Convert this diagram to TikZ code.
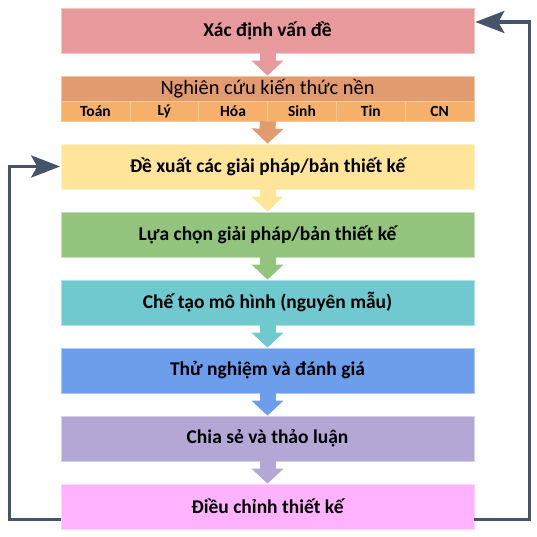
\documentclass[tikz,border=0pt]{standalone}
\usepackage{fontspec}
\setmainfont{Carlito}
\usepackage{xcolor}
\usepackage{tikz}
\usetikzlibrary{arrows.meta}

\definecolor{stepA}{HTML}{E8999B}
\definecolor{stepB}{HTML}{E29B6E}
\definecolor{stepBsub}{HTML}{F5B16C}
\definecolor{stepC}{HTML}{FFE599}
\definecolor{stepD}{HTML}{93C47D}
\definecolor{stepE}{HTML}{70C9CE}
\definecolor{stepF}{HTML}{6D9EEB}
\definecolor{stepG}{HTML}{B4A7D6}
\definecolor{stepH}{HTML}{FFB3FF}
\definecolor{loopcol}{HTML}{44546A}

\begin{document}
\begin{tikzpicture}[
                x=1pt,y=1pt,
                stage/.style={rectangle,fill=#1,draw=#1!55!white,line width=0.7pt,minimum width=413pt,minimum height=45pt,inner sep=0pt,font=\fontsize{19.5}{22}\selectfont\bfseries},
                subject/.style={rectangle,fill=stepBsub,draw=stepBsub!70!white,line width=0.6pt,minimum width=413pt/6,minimum height=20pt,inner sep=0pt,font=\fontsize{15.5}{17}\selectfont\bfseries},
                flow/.style={draw=#1,line width=16pt,-{Triangle[length=15pt,width=31pt]}},
                feedback/.style={draw=loopcol,line width=3.5pt,-{Stealth[length=29pt,width=22pt,inset=6pt]}},
            ]

            \useasboundingbox (0,0) rectangle (537,-537);

            \node[stage=stepA] (b1) at (267.5,-30.5) {Xác định vấn đề};

            \node[stage=stepB,minimum height=25pt,font=\fontsize{20.4}{22}\selectfont] (research) at (267.5,-88.5) {Nghiên cứu kiến thức nền};

            \foreach \i/\sub in {1/Toán,2/Lý,3/Hóa,4/Sinh,5/Tin,6/CN} {
                \node[subject] (sub\i) at (61+413/12+413/6*\i-413/6,-111) {\sub};
            }

            \foreach \i/\col/\txt in {3/stepC/{Đề xuất các giải pháp/bản thiết kế},
                                      4/stepD/{Lựa chọn giải pháp/bản thiết kế},
                                      5/stepE/{Chế tạo mô hình (nguyên mẫu)},
                                      6/stepF/{Thử nghiệm và đánh giá},
                                      7/stepG/{Chia sẻ và thảo luận},
                                      8/stepH/{Điều chỉnh thiết kế}} {
                \node[stage=\col] (b\i) at (267.5,-30.5-68*\i+68) {\txt};
            }

            \draw[flow=stepA] (b1.south) -- (research.north);
            \draw[flow=stepB] (sub3.south east) -- (b3.north);
            \foreach \i/\col [evaluate=\i as \j using int(\i+1)] in {3/stepC,4/stepD,5/stepE,6/stepF,7/stepG} {
                \draw[flow=\col] (b\i.south) -- (b\j.north);
            }

            \draw[feedback] ([yshift=-13pt]b8.east) -- ++(55,0) |- ([yshift=8.5pt,xshift=1pt]b1.east);
            \draw[feedback] ([yshift=-13pt]b8.west) -- ++(-51,0) |- ([xshift=-0.5pt]b3.west);
        \end{tikzpicture}
\end{document}
